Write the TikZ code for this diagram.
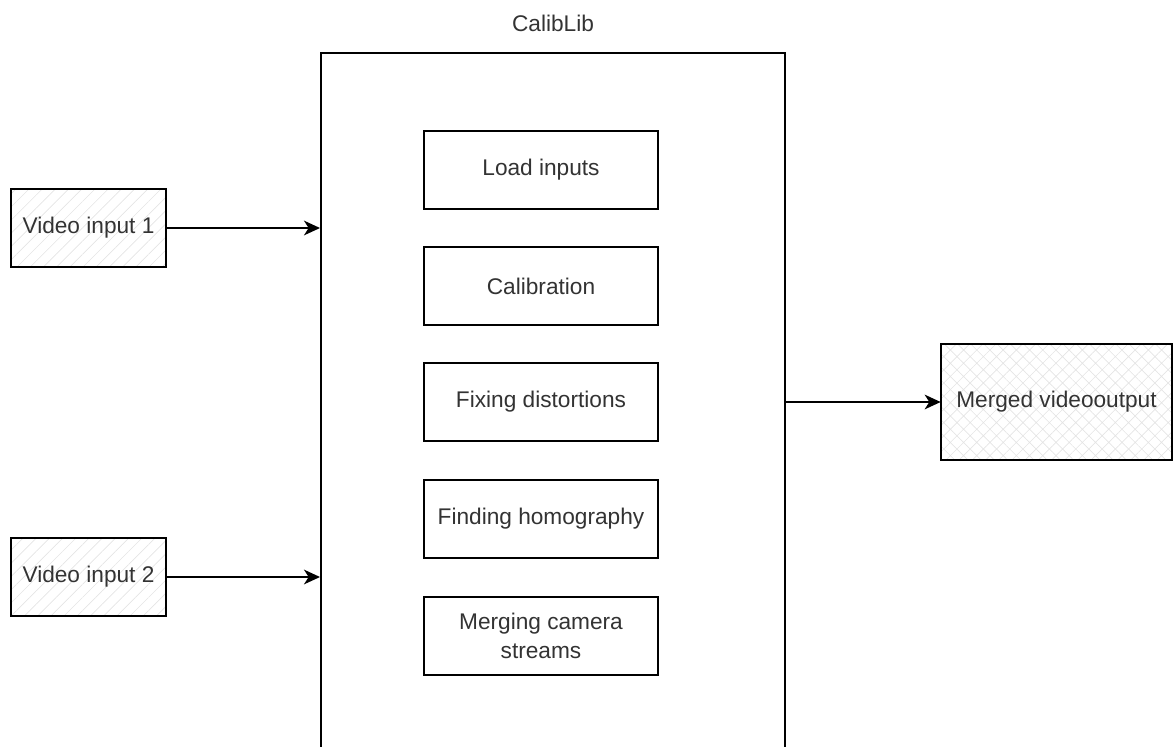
\documentclass[tikz,border=0pt]{standalone}
\usepackage{fontspec}
\setmainfont{Liberation Sans}
\usetikzlibrary{arrows.meta, patterns.meta, positioning}
\definecolor{textgray}{HTML}{333333}
\definecolor{hatchgray}{HTML}{E4E4E4}

\begin{document}
\begin{tikzpicture}[x=0.75pt, y=-0.75pt,
    every node/.style={font=\fontsize{17}{21.75}\selectfont, text=textgray},
    frame/.style={draw, line width=1.5pt},
    inbox/.style={frame, minimum width=116.25pt, minimum height=58.5pt,
        pattern={Lines[angle=45, distance=7pt, line width=0.5pt]}, pattern color=hatchgray},
    outbox/.style={frame, minimum width=173.25pt, minimum height=87pt,
        pattern={Hatch[angle=45, distance=7pt, line width=0.5pt]}, pattern color=hatchgray},
    stepbox/.style={frame, fill=white, minimum width=175.5pt, minimum height=58.5pt, align=center},
    flow/.style={line width=1.5pt, -{Stealth[length=12pt, width=11pt, inset=3.5pt]}}]

    \clip (0,0) rectangle (1173,746);
    \useasboundingbox (0,0) rectangle (1173,746);

    \node[frame, minimum width=348pt, minimum height=560.25pt] (calib) at (553, 426.5) {};
    \node (title) at (553, 23) {CalibLib};

    \node[stepbox] (load) at (541, 170) {Load inputs};
    \node[stepbox] (calibration) at (541, 286) {Calibration};
    \node[stepbox] (distort) at (541, 402) {Fixing distortions};
    \node[stepbox] (homography) at (541, 519) {Finding homography};
    \node[stepbox] (merging) at (541, 635.5) {Merging camera\\streams};

    \node[inbox] (video1) at (88.5, 228) {Video input 1};
    \node[inbox] (video2) at (88.5, 577) {Video input 2};
    \node[outbox] (merged) at (1056.5, 402) {Merged videooutput};

    \draw[flow] (video1.east) -- (video1.east -| calib.west);
    \draw[flow] (video2.east) -- (video2.east -| calib.west);
    \draw[flow] (merged.west -| calib.east) -- (merged.west);

\end{tikzpicture}
\end{document}
